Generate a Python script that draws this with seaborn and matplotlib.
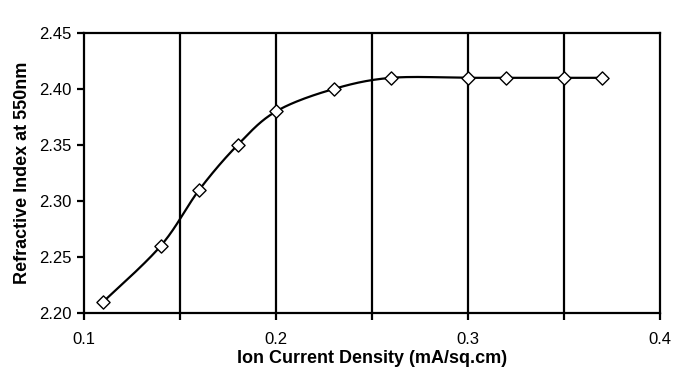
import numpy as np
import pandas as pd
import matplotlib
matplotlib.use("Agg")
import matplotlib.pyplot as plt
import seaborn as sns

current_density = [0.11, 0.14, 0.16, 0.18, 0.20, 0.23, 0.26, 0.30, 0.32, 0.35, 0.37]
refractive_index = [2.21, 2.26, 2.31, 2.35, 2.38, 2.40, 2.41, 2.41, 2.41, 2.41, 2.41]
x_ticks = [0.1, 0.2, 0.3, 0.4]
x_tick_labels = ["0.1", "0.2", "0.3", "0.4"]
y_ticks = [2.20, 2.25, 2.30, 2.35, 2.40, 2.45]

sns.set_style("white")
plt.rcParams['font.family'] = ['Liberation Sans', 'DejaVu Sans']
plt.rcParams['text.color'] = 'black'
plt.rcParams['axes.labelcolor'] = 'black'
plt.rcParams['xtick.color'] = 'black'
plt.rcParams['ytick.color'] = 'black'

df = pd.DataFrame({"x": current_density, "y": refractive_index})

# Excel-style smoothed line (Catmull-Rom Bezier) through the data points
def smooth(xs, ys, n=30):
    P = np.column_stack([xs, ys]).astype(float)
    out = []
    for i in range(len(P) - 1):
        p0 = P[i - 1] if i > 0 else P[i]
        p1, p2 = P[i], P[i + 1]
        p3 = P[i + 2] if i + 2 < len(P) else P[i + 1]
        c1 = p1 + (p2 - p0) / 6.0
        c2 = p2 - (p3 - p1) / 6.0
        t = np.linspace(0, 1, n)[:, None]
        seg = ((1 - t) ** 3) * p1 + 3 * ((1 - t) ** 2) * t * c1 + 3 * (1 - t) * t ** 2 * c2 + t ** 3 * p2
        out.append(seg if i == 0 else seg[1:])
    return np.vstack(out)

curve = smooth(current_density, refractive_index)
cdf = pd.DataFrame({"x": curve[:, 0], "y": curve[:, 1]})

fig = plt.figure(figsize=(6.76, 3.88), dpi=100)
ax = fig.add_axes([0.1243, 0.1933, 0.852, 0.7216])

sns.lineplot(data=cdf, x="x", y="y", ax=ax, color="black", linewidth=1.6, sort=False, estimator=None)
sns.scatterplot(data=df, x="x", y="y", ax=ax, marker="D", s=45, facecolor="white",
                edgecolor="black", linewidth=1.0, zorder=5)

ax.set_xlim(0.1, 0.4)
ax.set_ylim(2.20, 2.45)
ax.set_xticks(x_ticks)
ax.set_xticklabels(x_tick_labels)
ax.set_xticks([0.15, 0.25, 0.35], minor=True)
ax.set_yticks(y_ticks)
ax.set_yticklabels([f"{v:.2f}" for v in y_ticks])

for v in [0.15, 0.2, 0.25, 0.3, 0.35]:
    ax.axvline(v, color="black", linewidth=1.6, zorder=1)

for s in ax.spines.values():
    s.set_color("black")
    s.set_linewidth(1.6)

ax.tick_params(axis="both", which="both", direction="out", length=5, width=1.6, color="black",
               labelsize=12, labelcolor="black", bottom=True, left=True)
ax.tick_params(axis="x", pad=9)
ax.tick_params(axis="y", pad=4)

ax.set_xlabel("Ion Current Density (mA/sq.cm)", fontsize=13, fontweight="bold", labelpad=2)
ax.set_ylabel("Refractive Index at 550nm", fontsize=13, fontweight="bold", labelpad=6)

fig.savefig("out.png", dpi=100)
